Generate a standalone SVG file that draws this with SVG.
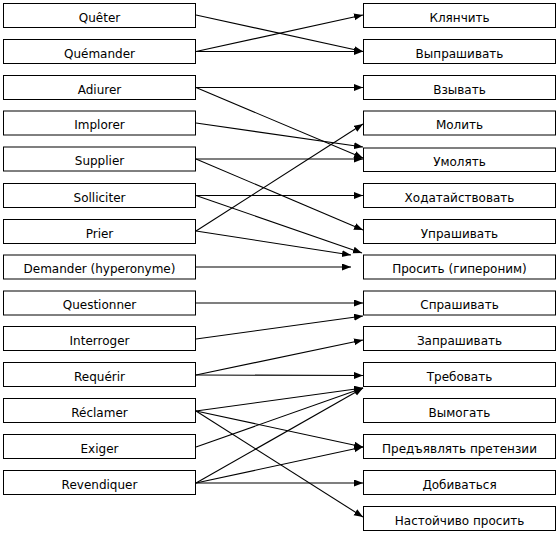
<svg xmlns="http://www.w3.org/2000/svg" width="559" height="535" viewBox="0 0 559 535">
<style>
rect{fill:#fff;stroke:#000;stroke-width:1}
text{font-family:"DejaVu Sans",Verdana,sans-serif;font-size:12px;fill:#000;text-anchor:middle}
#connectors line{stroke:#000;stroke-width:1.1;marker-end:url(#ah)}
</style>
<defs>
<marker id="ah" markerUnits="userSpaceOnUse" markerWidth="10" markerHeight="8" refX="9" refY="3.5" orient="auto"><path d="M0,0 L9,3.5 L0,7 z" fill="#000"/></marker>
</defs>
<rect x="0" y="0" width="559" height="535" style="stroke:none"/>
<g id="connectors">
<line x1="196" y1="15" x2="363" y2="51.5"/>
<line x1="196" y1="51.5" x2="363" y2="15"/>
<line x1="196" y1="51.5" x2="363" y2="51.5"/>
<line x1="196" y1="87.5" x2="363" y2="87.5"/>
<line x1="196" y1="87.5" x2="363" y2="158"/>
<line x1="196" y1="123" x2="363" y2="147"/>
<line x1="196" y1="159" x2="363" y2="159"/>
<line x1="196" y1="159" x2="363" y2="230"/>
<line x1="196" y1="195.5" x2="363" y2="195.5"/>
<line x1="196" y1="195.5" x2="362" y2="253"/>
<line x1="196" y1="231" x2="363" y2="124"/>
<line x1="196" y1="231" x2="351" y2="255"/>
<line x1="196" y1="267" x2="351" y2="267"/>
<line x1="196" y1="303" x2="363" y2="303"/>
<line x1="196" y1="339" x2="363" y2="316"/>
<line x1="196" y1="375" x2="363" y2="340"/>
<line x1="196" y1="375" x2="363" y2="375.5"/>
<line x1="196" y1="411" x2="363" y2="388"/>
<line x1="196" y1="411" x2="363" y2="447"/>
<line x1="196" y1="411" x2="363" y2="517"/>
<line x1="196" y1="447" x2="363" y2="388"/>
<line x1="196" y1="483" x2="363" y2="388"/>
<line x1="196" y1="483" x2="363" y2="447"/>
<line x1="196" y1="483" x2="363" y2="483"/>
</g>
<g id="l1"><rect x="3.5" y="3.5" width="192" height="24"/><text x="99.5" y="21.5">Quêter</text></g>
<g id="l2"><rect x="3.5" y="39.5" width="192" height="24"/><text x="99.5" y="57.5">Quémander</text></g>
<g id="l3"><rect x="3.5" y="75.5" width="192" height="24"/><text x="99.5" y="93.5">Adiurer</text></g>
<g id="l4"><rect x="3.5" y="111" width="192" height="24"/><text x="99.5" y="129">Implorer</text></g>
<g id="l5"><rect x="3.5" y="147" width="192" height="24"/><text x="99.5" y="165">Supplier</text></g>
<g id="l6"><rect x="3.5" y="183.5" width="192" height="24"/><text x="99.5" y="201.5">Solliciter</text></g>
<g id="l7"><rect x="3.5" y="219.5" width="192" height="24"/><text x="99.5" y="237.5">Prier</text></g>
<g id="l8"><rect x="3.5" y="255" width="192" height="24"/><text x="99.5" y="272.5">Demander (hyperonyme)</text></g>
<g id="l9"><rect x="3.5" y="291" width="192" height="24"/><text x="99.5" y="309">Questionner</text></g>
<g id="l10"><rect x="3.5" y="326.5" width="192" height="24"/><text x="99.5" y="344.5">Interroger</text></g>
<g id="l11"><rect x="3.5" y="362.5" width="192" height="24"/><text x="99.5" y="380.5">Requérir</text></g>
<g id="l12"><rect x="3.5" y="398.5" width="192" height="24"/><text x="99.5" y="416.5">Réclamer</text></g>
<g id="l13"><rect x="3.5" y="434.5" width="192" height="24"/><text x="99.5" y="452.5">Exiger</text></g>
<g id="l14"><rect x="3.5" y="470.5" width="192" height="24"/><text x="99.5" y="488.5">Revendiquer</text></g>
<g id="r1"><rect x="363.5" y="3.5" width="192" height="24"/><text x="459.5" y="21.5">Клянчить</text></g>
<g id="r2"><rect x="363.5" y="39.5" width="192" height="24"/><text x="459.5" y="57.5">Выпрашивать</text></g>
<g id="r3"><rect x="363.5" y="75.5" width="192" height="24"/><text x="459.5" y="93.5">Взывать</text></g>
<g id="r4"><rect x="363.5" y="111" width="192" height="24"/><text x="459.5" y="129">Молить</text></g>
<g id="r5"><rect x="363.5" y="148" width="192" height="23.5"/><text x="459.5" y="166">Умолять</text></g>
<g id="r6"><rect x="363.5" y="183.5" width="192" height="24"/><text x="459.5" y="201.5">Ходатайствовать</text></g>
<g id="r7"><rect x="363.5" y="219.5" width="192" height="24"/><text x="459.5" y="237.5">Упрашивать</text></g>
<g id="r8"><rect x="363.5" y="255" width="192" height="24"/><text x="459.5" y="272.5">Просить (гипероним)</text></g>
<g id="r9"><rect x="363.5" y="291" width="192" height="24"/><text x="459.5" y="309">Спрашивать</text></g>
<g id="r10"><rect x="363.5" y="326.5" width="192" height="24"/><text x="459.5" y="344.5">Запрашивать</text></g>
<g id="r11"><rect x="363.5" y="362.5" width="192" height="24"/><text x="459.5" y="380.5">Требовать</text></g>
<g id="r12"><rect x="363.5" y="398.5" width="192" height="24"/><text x="459.5" y="416.5">Вымогать</text></g>
<g id="r13"><rect x="363.5" y="434.5" width="192" height="24"/><text x="459.5" y="452.5">Предъявлять претензии</text></g>
<g id="r14"><rect x="363.5" y="470.5" width="192" height="24"/><text x="459.5" y="488.5">Добиваться</text></g>
<g id="r15"><rect x="363.5" y="506.5" width="192" height="24"/><text x="459.5" y="524.5">Настойчиво просить</text></g>
</svg>
